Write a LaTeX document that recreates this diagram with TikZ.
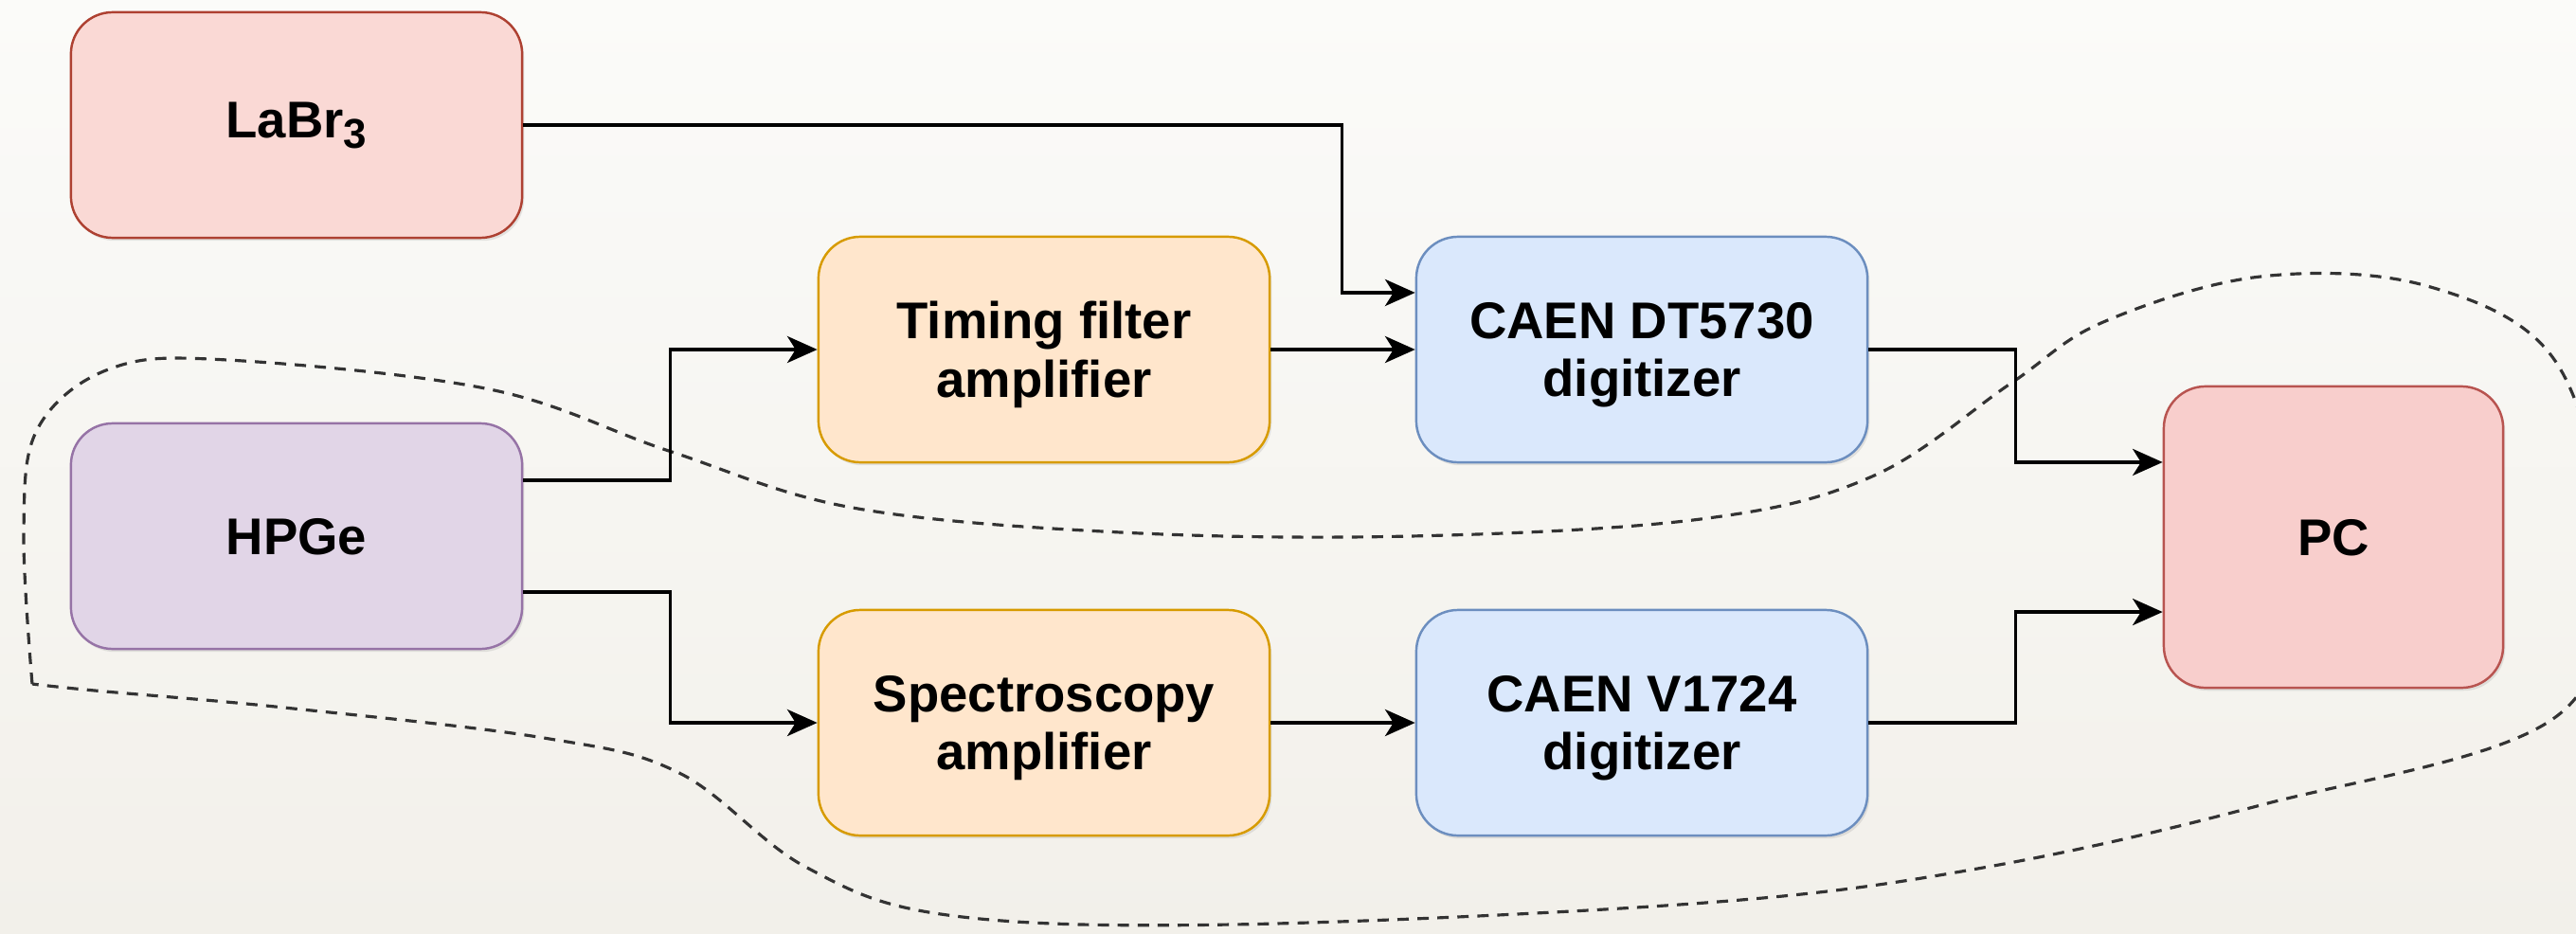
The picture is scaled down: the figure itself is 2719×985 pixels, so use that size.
\documentclass[tikz,border=0pt]{standalone}
\usepackage{fontspec}
\setmainfont{Liberation Sans}
\usetikzlibrary{arrows.meta,shadows}

\definecolor{labrfill}{HTML}{FAD9D5}
\definecolor{labrline}{HTML}{AE4132}
\definecolor{hpgefill}{HTML}{E1D5E7}
\definecolor{hpgeline}{HTML}{9673A6}
\definecolor{ampfill}{HTML}{FFE6CC}
\definecolor{ampline}{HTML}{D79B00}
\definecolor{digfill}{HTML}{DAE8FC}
\definecolor{digline}{HTML}{6C8EBF}
\definecolor{pcfill}{HTML}{F8CECC}
\definecolor{pcline}{HTML}{B85450}
\definecolor{bgtop}{HTML}{FBFBF9}
\definecolor{bgbot}{HTML}{F2F0EA}

\begin{document}
\begin{tikzpicture}[
    x=0.01cm, y=-0.01cm,
    block/.style={rounded corners=0.44cm, line width=0.7pt, minimum width=4.76cm, minimum height=2.38cm,
        align=center, inner sep=0pt, text depth=0pt, font=\fontsize{15.5}{17.6}\selectfont\bfseries,
        drop shadow={shadow xshift=0.6pt, shadow yshift=-0.9pt, opacity=0.18}},
    conn/.style={line width=1pt, -{Stealth[length=9pt, width=8pt, inset=2.5pt]}},
    group/.style={line width=0.9pt, draw=black!80, dash pattern=on 3.4pt off 2.6pt},
]
\useasboundingbox (0,0) rectangle (2719,985);
\shade[top color=bgtop, bottom color=bgbot] (0,0) rectangle (2719,985);

\draw[group] plot[smooth, tension=0.6] coordinates {
    (34,722) (25,560) (40,452) (117,389) (240,380) (517,411) (706,476) (900,536)
    (1183,562) (1489,566) (1795,548) (1976,503) (2122,405) (2220,340) (2386,292)
    (2562,302) (2697,381) (2745,570) (2700,755) (2386,850) (2093,916) (1800,953)
    (1300,976) (1000,966) (850,915) (717,816) (574,779) (300,747) (100,729) (34,722)};

\node[block, fill=labrfill, draw=labrline, text depth=3pt] (labr) at (313,132) {LaBr\raisebox{-3pt}{\fontsize{12.5}{12.5}\selectfont 3}};
\node[block, fill=hpgefill, draw=hpgeline] (hpge) at (313,566) {HPGe};
\node[block, fill=ampfill, draw=ampline] (tfa) at (1102,369) {Timing filter\\amplifier};
\node[block, fill=ampfill, draw=ampline] (spa) at (1102,763) {Spectroscopy\\amplifier};
\node[block, fill=digfill, draw=digline] (dt) at (1733,369) {CAEN DT5730\\digitizer};
\node[block, fill=digfill, draw=digline] (v17) at (1733,763) {CAEN V1724\\digitizer};
\node[block, fill=pcfill, draw=pcline, minimum width=3.58cm, minimum height=3.18cm] (pc) at (2463,567) {PC};

\draw[conn] (labr.east) -| ([xshift=-0.77cm, yshift=0.6cm]dt.west) -- ([yshift=0.6cm]dt.west);
\draw[conn] ([yshift=0.59cm]hpge.east) -- ++(155,0) |- (tfa.west);
\draw[conn] ([yshift=-0.59cm]hpge.east) -- ++(155,0) |- (spa.west);
\draw[conn] (tfa.east) -- (dt.west);
\draw[conn] (spa.east) -- (v17.west);
\draw[conn] (dt.east) -- ++(155,0) |- ([yshift=0.79cm]pc.west);
\draw[conn] (v17.east) -- ++(155,0) |- ([yshift=-0.79cm]pc.west);
\end{tikzpicture}
\end{document}
